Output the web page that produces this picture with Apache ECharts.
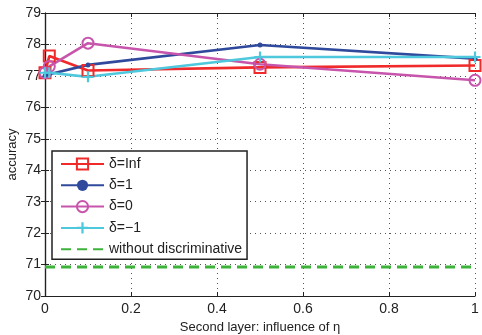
<!DOCTYPE html>
<html>
<head>
<meta charset="utf-8">
<script src="https://cdn.jsdelivr.net/npm/echarts@6/dist/echarts.min.js"></script>
<style>
  html, body { margin: 0; padding: 0; background: #fff; }
  #chart { width: 482px; height: 335px; }
</style>
</head>
<body>
<div id="chart"></div>
<script>
const etaValues = [0, 0.01, 0.1, 0.5, 1];
const deltaInf = [77.1, 77.63, 77.17, 77.27, 77.33];
const deltaOne = [77.0, 77.05, 77.35, 77.98, 77.55];
const deltaZero = [77.1, 77.3, 78.04, 77.37, 76.86];
const deltaMinusOne = [77.1, 77.1, 76.97, 77.6, 77.6];
const baselineX = [0, 1];
const baselineY = [70.92, 70.92];

const font = "'Liberation Sans', Arial, sans-serif";
const pairs = (xs, ys) => xs.map((x, i) => [x, ys[i]]);

const chart = echarts.init(document.getElementById("chart"));

function lineSeries(name, data, color, symbol, size, filled) {
  return {
    name: name,
    type: "line",
    data: data,
    symbol: symbol,
    symbolSize: size,
    showAllSymbol: true,
    lineStyle: { color: color, width: 2.6 },
    itemStyle: filled
      ? { color: color, borderColor: color, borderWidth: 0 }
      : { color: "rgba(255,255,255,0)", borderColor: color, borderWidth: 2 },
    emphasis: { disabled: true },
    animation: false,
  };
}

const plusPath = "path://M4,0h2v4h4v2h-4v4h-2v-4h-4v-2h4z";

chart.setOption({
  backgroundColor: "#fff",
  animation: false,
  textStyle: { fontFamily: font },
  grid: { left: 45, right: 7, top: 13, bottom: 39, containLabel: false, outerBoundsMode: "none" },
  legend: {
    orient: "vertical",
    left: 52,
    top: 151,
    padding: [6, 5, 3, 8],
    itemWidth: 43,
    itemHeight: 14,
    itemGap: 7.3,
    backgroundColor: "#fff",
    borderColor: "#222",
    borderWidth: 1.5,
    borderRadius: 0,
    textStyle: { fontFamily: font, fontSize: 14, color: "#222" },
    data: [
      "δ=Inf",
      "δ=1",
      "δ=0",
      "δ=−1",
      { name: "without discriminative", itemStyle: { opacity: 0 } },
    ],
  },
  xAxis: [
    {
      type: "value",
      min: 0,
      max: 1,
      interval: 0.2,
      name: "Second layer: influence of η",
      nameLocation: "middle",
      nameGap: 24,
      nameTextStyle: { fontFamily: font, fontSize: 13, color: "#222" },
      axisLine: { lineStyle: { color: "#222", width: 1.2 } },
      axisTick: { inside: true, length: 4, lineStyle: { color: "#222" } },
      axisLabel: { fontFamily: font, fontSize: 14, color: "#222", margin: 6 },
      splitLine: { show: true, lineStyle: { color: "#555", type: [1, 4], width: 1 } },
    },
    {
      type: "value",
      position: "top",
      min: 0,
      max: 1,
      interval: 0.2,
      axisLine: { show: true, lineStyle: { color: "#222", width: 1.2 } },
      axisTick: { show: true, inside: true, length: 4, lineStyle: { color: "#222" } },
      axisLabel: { show: false },
      splitLine: { show: false },
    },
  ],
  yAxis: [
    {
      type: "value",
      min: 70,
      max: 79,
      interval: 1,
      name: "accuracy",
      nameLocation: "middle",
      nameGap: 26,
      nameMoveOverlap: false,
      nameTextStyle: { fontFamily: font, fontSize: 13, color: "#222" },
      axisLine: { show: true, lineStyle: { color: "#222", width: 1.2 } },
      axisTick: { show: true, inside: true, length: 4, lineStyle: { color: "#222" } },
      axisLabel: { fontFamily: font, fontSize: 14, color: "#222", margin: 4 },
      splitLine: { show: true, lineStyle: { color: "#555", type: [1, 4], width: 1 } },
    },
    {
      type: "value",
      position: "right",
      min: 70,
      max: 79,
      interval: 1,
      axisLine: { show: true, lineStyle: { color: "#222", width: 1.2 } },
      axisTick: { show: true, inside: true, length: 4, lineStyle: { color: "#222" } },
      axisLabel: { show: false },
      splitLine: { show: false },
    },
  ],
  series: [
    lineSeries("δ=Inf", pairs(etaValues, deltaInf), "#f02a2a", "rect", 11, false),
    lineSeries("δ=1", pairs(etaValues, deltaOne), "#2f4a9c", "circle", 5, true),
    lineSeries("δ=0", pairs(etaValues, deltaZero), "#c855ac", "circle", 11, false),
    lineSeries("δ=−1", pairs(etaValues, deltaMinusOne), "#4ec8dc", plusPath, 11, true),
    {
      name: "without discriminative",
      type: "line",
      data: pairs(baselineX, baselineY),
      symbol: "none",
      lineStyle: { color: "#3cb43c", width: 3, type: [10, 6] },
      itemStyle: { color: "#3cb43c" },
      emphasis: { disabled: true },
      animation: false,
    },
  ],
});
</script>
</body>
</html>
